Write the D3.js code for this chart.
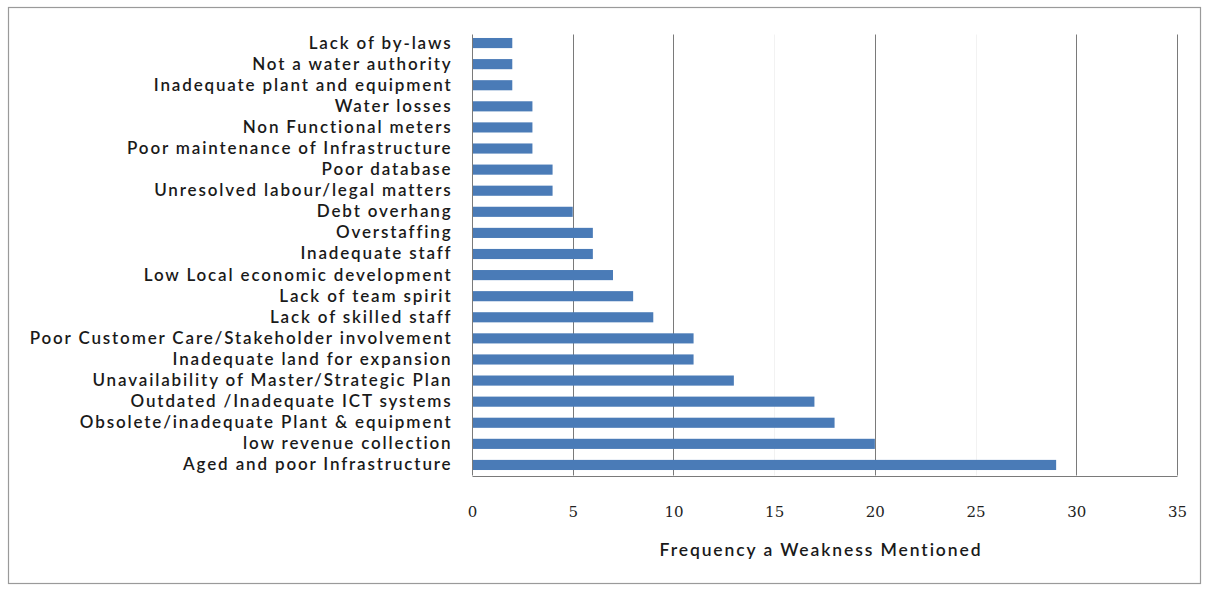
<!DOCTYPE html>
<html>
<head>
<meta charset="utf-8">
<script src="https://cdn.jsdelivr.net/npm/d3@7"></script>
<style>
  html, body { margin: 0; padding: 0; background: #fff; }
  svg { display: block; }
</style>
</head>
<body>
<svg id="chart" width="1210" height="593"></svg>
<script>
// Weaknesses, listed top to bottom as drawn
const categories = [
  "Lack of by-laws",
  "Not a water authority",
  "Inadequate plant and equipment",
  "Water losses",
  "Non Functional meters",
  "Poor maintenance of Infrastructure",
  "Poor database",
  "Unresolved labour/legal matters",
  "Debt overhang",
  "Overstaffing",
  "Inadequate staff",
  "Low Local economic development",
  "Lack of team spirit",
  "Lack of skilled staff",
  "Poor Customer Care/Stakeholder involvement",
  "Inadequate land for expansion",
  "Unavailability of Master/Strategic Plan",
  "Outdated /Inadequate ICT systems",
  "Obsolete/inadequate Plant & equipment",
  "low revenue collection",
  "Aged  and poor Infrastructure"
];
const frequency = [2, 2, 2, 3, 3, 3, 4, 4, 5, 6, 6, 7, 8, 9, 11, 11, 13, 17, 18, 20, 29];
const xTicks = [0, 5, 10, 15, 20, 25, 30, 35];
const xTitle = "Frequency a Weakness Mentioned";

const svg = d3.select("#chart");

// Outer chart frame
svg.append("rect")
  .attr("x", 8.5).attr("y", 7.5)
  .attr("width", 1192).attr("height", 576)
  .attr("fill", "#fff")
  .attr("stroke", "#9a9a9a").attr("stroke-width", 1.2);

const plot = { left: 472, right: 1177, top: 32.5, bottom: 475.5 };

const x = d3.scaleLinear().domain([0, 35]).range([plot.left, plot.right]);
const y = d3.scaleBand().domain(categories).range([plot.top, plot.bottom]).paddingInner(0.52).paddingOuter(0.26);

// Vertical gridlines
svg.append("g")
  .selectAll("line")
  .data(xTicks.filter(t => t > 0))
  .join("line")
  .attr("x1", d => Math.round(x(d)) + 0.5)
  .attr("x2", d => Math.round(x(d)) + 0.5)
  .attr("y1", plot.top + 2)
  .attr("y2", plot.bottom)
  .attr("stroke", d => (d === 15 || d === 25) ? "#f2f2f2" : "#7a7a7a")
  .attr("stroke-width", 1);

// Bars
svg.append("g")
  .selectAll("rect")
  .data(categories.map((c, i) => ({ c, v: frequency[i] })))
  .join("rect")
  .attr("x", x(0) + 1)
  .attr("y", d => y(d.c))
  .attr("width", d => x(d.v) - x(0) - 1)
  .attr("height", y.bandwidth())
  .attr("fill", "#4a7bb7");

// Category axis (left)
const yAxis = svg.append("g")
  .attr("transform", `translate(${plot.left + 0.5},0)`)
  .call(d3.axisLeft(y).tickSize(0).tickPadding(20));
yAxis.select(".domain").attr("stroke", "#7a7a7a").attr("d", `M0,${plot.top + 2}V${plot.bottom}`);
yAxis.selectAll("text")
  .attr("font-family", "Lato, 'Open Sans', sans-serif")
  .attr("font-size", 17)
  .attr("font-weight", 600)
  .attr("letter-spacing", 1.85)
  .attr("fill", "#1a1a1a");

// Value axis (bottom)
const xAxis = svg.append("g")
  .attr("transform", `translate(0,${plot.bottom + 0.5})`)
  .call(d3.axisBottom(x).tickValues(xTicks).tickSize(0).tickPadding(30).tickFormat(d3.format("d")));
xAxis.select(".domain").attr("stroke", "#7a7a7a");
xAxis.selectAll("text")
  .attr("font-family", "'DejaVu Serif', 'Liberation Serif', serif")
  .attr("font-size", 15)
  .attr("fill", "#222");

// Axis title
svg.append("text")
  .attr("x", 821)
  .attr("y", 556)
  .attr("text-anchor", "middle")
  .attr("font-family", "Lato, 'Open Sans', sans-serif")
  .attr("font-size", 17.5)
  .attr("font-weight", 600)
  .attr("letter-spacing", 1.9)
  .attr("fill", "#1a1a1a")
  .text(xTitle);
</script>
</body>
</html>
